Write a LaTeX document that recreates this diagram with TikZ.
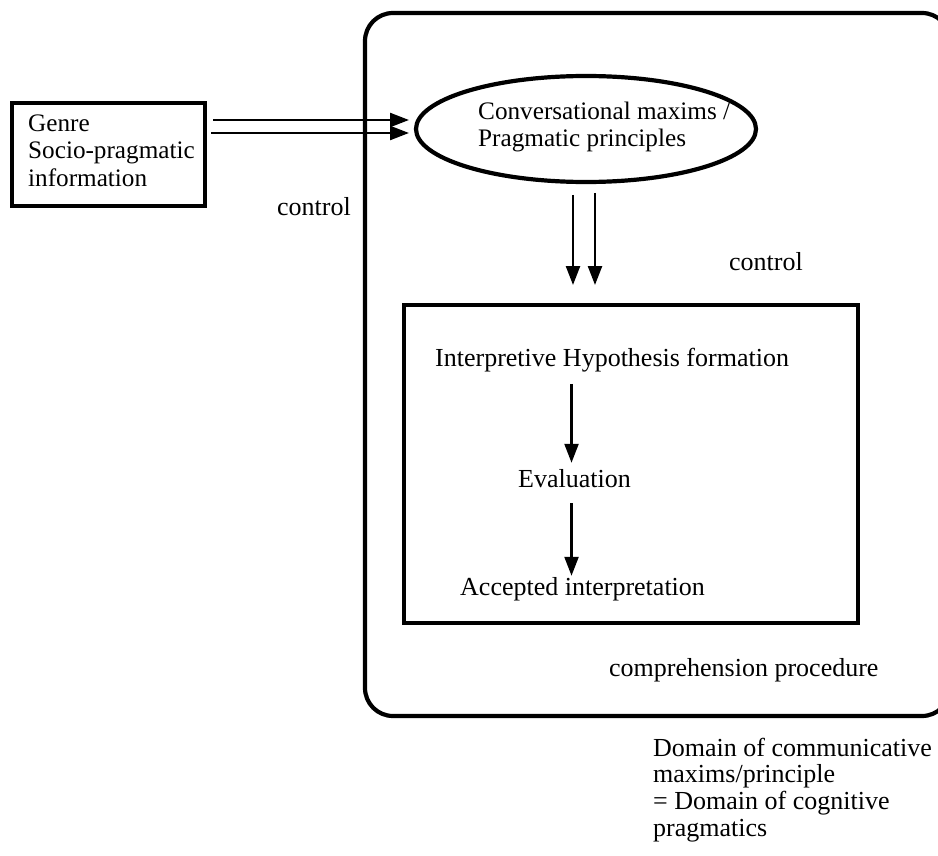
\documentclass[tikz,border=0pt]{standalone}
\usepackage{fontspec}
\setmainfont{Liberation Serif}
\usetikzlibrary{arrows.meta,shapes.geometric}
\begin{document}
\begin{tikzpicture}[x=1pt,y=-1pt,
  thickline/.style={draw=black,line width=4.2pt,outer sep=0pt,inner sep=0pt},
  lbl/.style={inner sep=0pt,font=\fontsize{26}{27}\selectfont},
  sml/.style={inner sep=0pt,font=\fontsize{25.2}{27}\selectfont},
  arr/.style={draw=black,line width=2.4pt,-{Triangle[length=19pt,width=14pt]}}]
\useasboundingbox (0,0) rectangle (938,856);
\begin{scope}
\clip (0,0) rectangle (938,856);
\draw[draw=black,line width=4.2pt,rounded corners=28pt] (950,80) -- (950,13) -- (365,13) -- (365,716) -- (950,716) -- (950,650);
\end{scope}
% left box
\node[thickline,minimum width=193pt,minimum height=103pt,anchor=north west] (genre) at (12,103) {};
\node[sml,anchor=base west] (genretxt) at (28,132) {Genre};
\node[sml,anchor=base west] (socio) at (28,159) {Socio-pragmatic};
\node[sml,anchor=base west] (info) at (28,186) {information};
% ellipse
\node[thickline,ellipse,minimum width=340pt,minimum height=106pt] (maxims) at (586,129) {};
\node[sml,anchor=base west] (maxt1) at (478,120) {Conversational maxims /};
\node[sml,anchor=base west] (maxt2) at (478,147) {Pragmatic principles};
% double horizontal arrows
\draw[arr] ([xshift=8pt,yshift=34.5pt]genre.east) -- ([xshift=-7pt,yshift=9pt]maxims.west);
\draw[arr] ([xshift=6pt,yshift=21.5pt]genre.east) -- ([xshift=-7pt,yshift=-4pt]maxims.west);
% inner box
\node[thickline,minimum width=454pt,minimum height=318pt,anchor=north west] (proc) at (404,305) {};
% double down arrows
\draw[arr] ([xshift=-13pt,yshift=-13pt]maxims.south) -- ([xshift=-58pt,yshift=20pt]proc.north);
\draw[arr] ([xshift=9pt,yshift=-11pt]maxims.south) -- ([xshift=-36pt,yshift=20pt]proc.north);
% inner texts
\node[lbl,anchor=base west] (hyp) at (435,366) {Interpretive Hypothesis formation};
\node[lbl,anchor=base west] (eval) at (518,487) {Evaluation};
\node[lbl,anchor=base west] (acc) at (460,595) {Accepted interpretation};
\draw[arr] ([xshift=-3pt,yshift=-12pt]eval.north |- hyp.south) -- ([xshift=-3pt,yshift=6pt]eval.north);
\draw[arr] ([xshift=-3pt,yshift=-16pt]eval.south) -- ([xshift=-3pt,yshift=1pt]eval.north |- acc.north);
% labels
\node[lbl,anchor=base west] (ctrl1) at (277,215) {control};
\node[lbl,anchor=base west] (ctrl2) at (729,270) {control};
\node[lbl,anchor=base west] (comp) at (609,676) {comprehension procedure};
\node[lbl,anchor=base west] (dom1) at (653,756) {Domain of communicative};
\node[lbl,anchor=base west] (dom2) at (653,782.7) {maxims/principle};
\node[lbl,anchor=base west] (dom3) at (653,809.4) {= Domain of cognitive};
\node[lbl,anchor=base west] (dom4) at (653,836) {pragmatics};
\end{tikzpicture}
\end{document}
